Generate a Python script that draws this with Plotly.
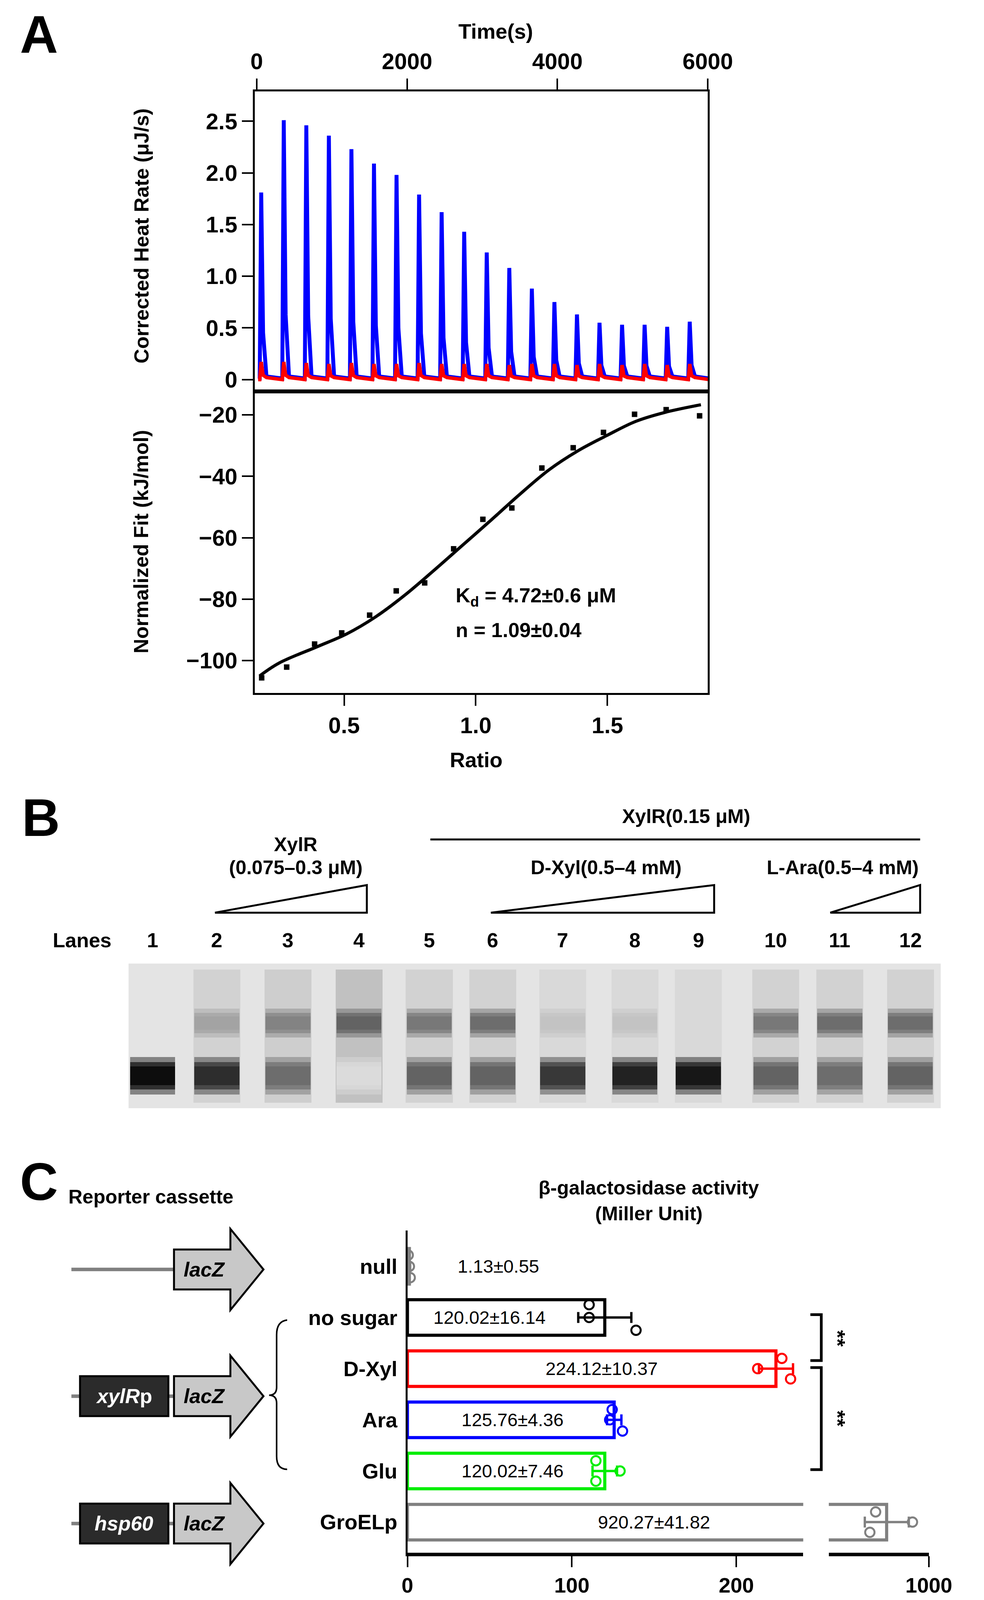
import plotly.graph_objects as go

W, H = 2518, 4809
FONT = "Liberation Sans"
S = 0.9  # font scale

# ---- panel A data ----
inj_times = [40, 340, 640, 940, 1240, 1540, 1840, 2140, 2440, 2740,
             3040, 3340, 3640, 3940, 4240, 4540, 4840, 5140, 5440, 5740]
blue_peaks = [1.81, 2.51, 2.46, 2.36, 2.23, 2.09, 1.98, 1.79, 1.62, 1.43,
              1.23, 1.08, 0.88, 0.75, 0.63, 0.55, 0.53, 0.53, 0.51, 0.56]
red_peaks = [0.17, 0.17, 0.16, 0.15, 0.16, 0.15, 0.15, 0.16, 0.15, 0.15,
             0.15, 0.14, 0.15, 0.15, 0.14, 0.15, 0.14, 0.15, 0.14, 0.15]

ratio = [0.187, 0.282, 0.388, 0.491, 0.597, 0.698, 0.806, 0.916, 1.027, 1.137,
         1.251, 1.37, 1.485, 1.603, 1.723, 1.85]
heat = [-105.6, -102.1, -94.6, -91.0, -85.2, -77.3, -74.7, -63.6, -54.0, -50.3,
        -37.3, -30.7, -25.7, -19.8, -18.3, -20.3]
fit_ratio = [0.179, 0.253, 0.4, 0.51, 0.619, 0.729, 0.839, 0.949, 1.059, 1.168,
             1.278, 1.388, 1.498, 1.608, 1.718, 1.855]
fit_heat = [-105.0, -100.8, -95.4, -91.3, -85.8, -78.8, -70.8, -62.5, -54.2, -45.8,
            -37.9, -31.7, -26.7, -22.1, -19.2, -16.7]

# ---- panel B data ----
lanes = ["1", "2", "3", "4", "5", "6", "7", "8", "9", "10", "11", "12"]
lane_x = [382, 553, 742, 931, 1118, 1287, 1473, 1665, 1834, 2040, 2210, 2398]
free_band = [1.0, 0.85, 0.55, 0.04, 0.6, 0.6, 0.8, 0.9, 0.95, 0.6, 0.55, 0.6]
bound_band = [0.0, 0.3, 0.45, 0.6, 0.5, 0.55, 0.15, 0.15, 0.05, 0.5, 0.55, 0.55]
smear = [0.0, 0.08, 0.1, 0.16, 0.08, 0.08, 0.05, 0.05, 0.05, 0.08, 0.08, 0.08]

# ---- panel C data ----
cats = ["null", "no sugar", "D-Xyl", "Ara", "Glu", "GroELp"]
means = [1.13, 120.02, 224.12, 125.76, 120.02, 920.27]
sds = [0.55, 16.14, 10.37, 4.36, 7.46, 41.82]
reps = [[0.5, 1.2, 1.7], [110.5, 110.5, 139.0], [213.0, 227.7, 233.0],
        [124.5, 123.0, 130.8], [114.6, 114.6, 129.3], [899.0, 888.0, 969.0]]
labels = ["1.13±0.55", "120.02±16.14", "224.12±10.37", "125.76±4.36",
          "120.02±7.46", "920.27±41.82"]
colors = ["#808080", "#000000", "#ff0000", "#0000ff", "#00ee00", "#808080"]
jitter = [[-0.22, 0.0, 0.22], [-0.25, 0.0, 0.25], [0.0, -0.2, 0.2],
          [-0.2, 0.0, 0.22], [-0.2, 0.2, 0.0], [-0.2, 0.2, 0.0]]
label_x = [30, 50, 118, 64, 64, 150]


def px(x):
    return x / W


def py(y):
    return 1 - y / H


def fs(n):
    return round(n * S)


fig = go.Figure()

# thermogram spikes
def spikes(times, peaks, base):
    xs, ys = [], []
    for t, h in zip(times, peaks):
        xs += [t - 20, t, t + 20, t + 45, t + 90, t + 280]
        ys += [base, base, h, 0.25 * h, base + 0.02, base]
    return xs, ys

bx, by = spikes(inj_times, blue_peaks, 0.01)
rx, ry = spikes(inj_times, red_peaks, 0.0)
fig.add_trace(go.Scatter(x=bx, y=by, mode="lines", line=dict(color="#0000ff", width=10),
                         xaxis="x", yaxis="y", showlegend=False))
fig.add_trace(go.Scatter(x=rx, y=ry, mode="lines", line=dict(color="#ff0000", width=9),
                         xaxis="x", yaxis="y", showlegend=False))

fig.add_trace(go.Scatter(x=fit_ratio, y=fit_heat, mode="lines", line=dict(color="black", width=8, shape="spline"),
                         xaxis="x2", yaxis="y2", showlegend=False))
fig.add_trace(go.Scatter(x=ratio, y=heat, mode="markers", marker=dict(symbol="square", color="black", size=14),
                         xaxis="x2", yaxis="y2", showlegend=False))

# gel
def gray(v):
    g = int(228 - 215 * v)
    return f"rgb({g},{g},{g})"

fig.add_trace(go.Bar(x=lane_x, y=[0.92] * 12, base=0.04, width=125,
                     marker=dict(color=[gray(v) for v in smear], line=dict(width=0)),
                     xaxis="x3", yaxis="y3", showlegend=False))
for w, o in [(0.2, 0.45), (0.14, 0.7), (0.09, 1.0)]:
    fig.add_trace(go.Bar(x=lane_x, y=[w] * 12, base=0.59 - w / 2, width=120,
                         marker=dict(color=[gray(v) for v in bound_band], opacity=o, line=dict(width=0)),
                         xaxis="x3", yaxis="y3", showlegend=False))
for w, o in [(0.26, 0.45), (0.19, 0.7), (0.13, 1.0)]:
    fig.add_trace(go.Bar(x=lane_x, y=[w] * 12, base=0.225 - w / 2, width=120,
                         marker=dict(color=[gray(v) for v in free_band], opacity=o, line=dict(width=0)),
                         xaxis="x3", yaxis="y3", showlegend=False))

# bar chart
for i, c in enumerate(cats):
    for xa in (["x4", "x5"] if c == "GroELp" else ["x4"]):
        fig.add_trace(go.Bar(
            y=[i], x=[means[i]], orientation="h", width=0.69,
            marker=dict(color="white", line=dict(color=colors[i], width=8)),
            error_x=dict(type="data", array=[sds[i]], color=colors[i], thickness=6, width=14,
                         visible=(xa == "x5" or c != "GroELp")),
            xaxis=xa, yaxis="y4", showlegend=False))
    fig.add_trace(go.Scatter(
        y=[i + j for j in jitter[i]], x=reps[i], mode="markers",
        marker=dict(symbol="circle-open", size=24, color=colors[i], line=dict(width=5, color=colors[i])),
        xaxis="x5" if c == "GroELp" else "x4", yaxis="y4", showlegend=False))
    fig.add_annotation(x=label_x[i], y=i, xref="x4", yref="y4", text=labels[i], showarrow=False,
                       xanchor="left" if c == "null" else "center",
                       font=dict(size=fs(52), family=FONT, color="black"))

axis_common = dict(showline=True, linecolor="black", linewidth=5, ticks="outside", ticklen=28,
                   tickwidth=4, tickcolor="black", showgrid=False, zeroline=False,
                   tickfont=dict(size=fs(64), family=FONT, color="black", weight="bold"))
tick_c = dict(size=fs(60), family=FONT, color="black", weight="bold")

fig.update_layout(
    autosize=True, margin=dict(l=0, r=0, t=0, b=0),
    paper_bgcolor="white", plot_bgcolor="white", bargap=0, barmode="overlay",
    xaxis=dict(axis_common, domain=[px(654), px(1859)], range=[-25, 6000], side="top",
               tickvals=[0, 2000, 4000, 6000], mirror=True, anchor="y"),
    yaxis=dict(axis_common, domain=[py(1168), py(265)], range=[-0.116, 2.79],
               tickvals=[0, 0.5, 1.0, 1.5, 2.0, 2.5], ticktext=["0", "0.5", "1.0", "1.5", "2.0", "2.5"],
               mirror=True, anchor="x"),
    xaxis2=dict(axis_common, domain=[px(654), px(1859)], range=[0.161, 1.881],
                tickvals=[0.5, 1.0, 1.5], ticktext=["0.5", "1.0", "1.5"], mirror=True, anchor="y2"),
    yaxis2=dict(axis_common, domain=[py(2075), py(1168)], range=[-110.6, -12.4],
                tickvals=[-20, -40, -60, -80, -100], ticktext=["−20", "−40", "−60", "−80", "−100"],
                mirror=True, anchor="x2"),
    xaxis3=dict(domain=[px(318), px(2479)], range=[318, 2479], visible=False, anchor="y3"),
    yaxis3=dict(domain=[py(3323), py(2888)], range=[0, 1], visible=False, anchor="x3"),
    xaxis4=dict(axis_common, domain=[px(1060), px(2113)], range=[0, 240.7], linewidth=9,
                tickvals=[0, 100, 200], anchor="y4", tickfont=tick_c),
    xaxis5=dict(axis_common, domain=[px(2181), px(2447)], range=[810, 1000], linewidth=9,
                tickvals=[1000], anchor="y4", tickfont=tick_c),
    yaxis4=dict(domain=[py(4660), py(3691)], range=[5.6, -0.70], showline=True, linecolor="black",
                linewidth=5, ticks="", showgrid=False, zeroline=False, anchor="x4",
                tickvals=list(range(6)), ticktext=cats, ticklabelstandoff=10, tickfont=tick_c),
)

# gel background
fig.add_shape(type="rect", xref="x3", yref="y3", x0=318, x1=2479, y0=0, y1=1,
              fillcolor="rgb(228,228,228)", line=dict(width=0), layer="below")


def text(x, y, s, size=56, bold=True, angle=0, anchor="center", color="black"):
    fig.add_annotation(x=px(x), y=py(y), xref="paper", yref="paper", text=s, showarrow=False,
                       textangle=angle, xanchor=anchor, yanchor="middle",
                       font=dict(size=fs(size), family=FONT, color=color, weight="bold" if bold else "normal"))


def path(points, close=False, fill=None, color="black", width=5):
    d = "M " + " L ".join(f"{px(a):.5f},{py(b):.5f}" for a, b in points) + (" Z" if close else "")
    fig.add_shape(type="path", xref="paper", yref="paper", path=d, fillcolor=fill,
                  line=dict(color=color, width=width))


# panel A texts
text(80, 95, "A", size=150)
text(1295, 85, "Time(s)", size=60)
text(352, 700, "Corrected Heat Rate (μJ/s)", size=58, angle=-90)
text(352, 1620, "Normalized Fit (kJ/mol)", size=58, angle=-90)
text(1243, 2275, "Ratio", size=60)
text(1186, 1785, "K<sub>d</sub> = 4.72±0.6 μM", size=58, anchor="left")
text(1186, 1885, "n = 1.09±0.04", size=58, anchor="left")

# panel B texts
text(85, 2450, "B", size=150)
text(1802, 2446, "XylR(0.15 μM)", size=56)
path([(1121, 2515), (2424, 2515)], width=5)
text(763, 2530, "XylR", size=56)
text(763, 2600, "(0.075–0.3 μM)", size=56)
text(1589, 2600, "D-Xyl(0.5–4 mM)", size=56)
text(2218, 2600, "L-Ara(0.5–4 mM)", size=56)
for x0, x1 in [(548, 952), (1282, 1876), (2185, 2424)]:
    path([(x0, 2735), (x1, 2735), (x1, 2652)], close=True, fill="white", width=5)
text(194, 2818, "Lanes", size=58)
for lx, ln in zip(lane_x, lanes):
    text(lx, 2818, ln, size=58)

# panel C texts & schematic
text(80, 3545, "C", size=150)
text(156, 3590, "Reporter cassette", size=56, anchor="left")
text(1702, 3563, "β-galactosidase activity", size=56)
text(1702, 3640, "(Miller Unit)", size=56)

for cy, box in [(3808, None), (4189, "<i>xylR</i>p"), (4572, "<i>hsp60</i>")]:
    path([(166, cy), (439, cy)], color="#808080", width=9)
    if box:
        path([(189, cy - 60), (424, cy - 60), (424, cy + 60), (189, cy + 60)], close=True,
             fill="#2b2b2b", width=5)
        text(306, cy, box, size=58, color="white")
    path([(439, cy - 60), (589, cy - 60), (589, cy - 122), (677, cy), (589, cy + 122),
          (589, cy + 60), (439, cy + 60)], close=True, fill="#c8c8c8", width=5)
    text(520, cy, "<i>lacZ</i>", size=58)

# brace
fig.add_shape(type="path", xref="paper", yref="paper", line=dict(color="black", width=4),
              path=(f"M {px(740)},{py(3960)} Q {px(712)},{py(3964)} {px(712)},{py(4004)} "
                    f"L {px(712)},{py(4162)} Q {px(712)},{py(4186)} {px(692)},{py(4186)} "
                    f"Q {px(712)},{py(4186)} {px(712)},{py(4210)} L {px(712)},{py(4370)} "
                    f"Q {px(712)},{py(4409)} {px(740)},{py(4409)}"))

# significance brackets
path([(2132, 3944), (2161, 3944), (2161, 4082), (2132, 4082)], width=7)
path([(2132, 4103), (2161, 4103), (2161, 4410), (2132, 4410)], width=7)
text(2205, 4015, "**", size=60, angle=90)
text(2205, 4256, "**", size=60, angle=90)

fig.write_html("out.html", default_width="100%", default_height="100vh")
